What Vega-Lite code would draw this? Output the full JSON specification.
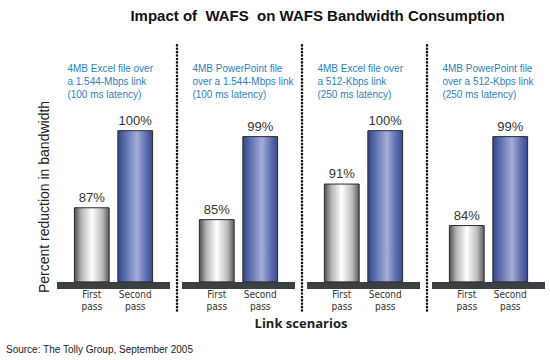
{
  "$schema": "https://vega.github.io/schema/vega-lite/v6.json",
  "background": "white",
  "padding": {"left": 6, "top": 9, "right": 2, "bottom": 2},
  "title": {"text": "Impact of \u00a0WAFS \u00a0on WAFS Bandwidth Consumption", "fontSize": 15, "fontWeight": "bold", "font": "Liberation Sans", "color": "#111111", "anchor": "middle", "dx": 42, "offset": 20},
  "vconcat": [
    {
      "data": {"values": [
        {"scenario": "4MB Excel file over|a 1.544-Mbps link|(100 ms latency)", "pass": "First pass", "value": 87},
        {"scenario": "4MB Excel file over|a 1.544-Mbps link|(100 ms latency)", "pass": "Second pass", "value": 100},
        {"scenario": "4MB PowerPoint file|over a 1.544-Mbps link|(100 ms latency)", "pass": "First pass", "value": 85},
        {"scenario": "4MB PowerPoint file|over a 1.544-Mbps link|(100 ms latency)", "pass": "Second pass", "value": 99},
        {"scenario": "4MB Excel file over|a 512-Kbps link|(250 ms latency)", "pass": "First pass", "value": 91},
        {"scenario": "4MB Excel file over|a 512-Kbps link|(250 ms latency)", "pass": "Second pass", "value": 100},
        {"scenario": "4MB PowerPoint file|over a 512-Kbps link|(250 ms latency)", "pass": "First pass", "value": 84},
        {"scenario": "4MB PowerPoint file|over a 512-Kbps link|(250 ms latency)", "pass": "Second pass", "value": 99}
      ]},
      "title": {"text": "Source: The Tolly Group, September 2005", "orient": "bottom", "anchor": "start", "fontSize": 10, "fontWeight": "normal", "font": "Liberation Sans", "color": "#222222", "dx": -31, "offset": 14},
      "spacing": 12,
      "bounds": "flush",
      "facet": {
        "column": {
          "field": "scenario", "type": "nominal",
          "sort": [
            "4MB Excel file over|a 1.544-Mbps link|(100 ms latency)",
            "4MB PowerPoint file|over a 1.544-Mbps link|(100 ms latency)",
            "4MB Excel file over|a 512-Kbps link|(250 ms latency)",
            "4MB PowerPoint file|over a 512-Kbps link|(250 ms latency)"
          ],
          "title": "Link scenarios",
          "header": {"labels": false, "titleOrient": "bottom", "titleFontSize": 13, "titleFontWeight": "bold", "titleFont": "Open Sans", "titleColor": "#222222", "titlePadding": -3}
        }
      },
      "spec": {
        "width": 113,
        "height": 185,
        "encoding": {
          "x": {"field": "pass", "type": "nominal", "scale": {"paddingInner": 0.2, "paddingOuter": 0.4},
                "axis": {"title": null, "labelExpr": "split(datum.value, ' ')", "labelAngle": 0, "ticks": false, "domain": false, "labelFontSize": 10, "labelColor": "#333333", "labelLineHeight": 12, "labelPadding": 0, "labelFont": "DejaVu Sans Condensed"}}
        },
        "layer": [
          {
            "transform": [{"filter": "datum.pass == 'First pass'"}],
            "mark": {"type": "rect", "color": "#3b4143"},
            "encoding": {"x": null, "y": {"datum": 74.5, "type": "quantitative", "scale": {"domain": [73.3, 104.5], "nice": false, "zero": false}}, "y2": {"datum": 73.3}}
          },
          {
            "mark": {"type": "bar", "stroke": "#2a2a2a", "strokeWidth": 1},
            "encoding": {
              "y": {"field": "value", "type": "quantitative", "scale": {"domain": [73.3, 104.5], "nice": false, "zero": false},
                    "axis": {"title": "Percent reduction in bandwidth", "labels": false, "ticks": false, "domain": false, "grid": false, "titleFontSize": 14, "titleFontWeight": "normal", "titleColor": "#222222", "titlePadding": 6, "titleFont": "Liberation Sans"}},
              "y2": {"datum": 74.5},
              "fill": {
                "condition": {"test": "datum.pass == 'First pass'", "value": {"gradient": "linear", "x1": 0, "x2": 1, "y1": 0, "y2": 0, "stops": [{"offset": 0, "color": "#505050"}, {"offset": 0.2, "color": "#b4b4b4"}, {"offset": 0.5, "color": "#ffffff"}, {"offset": 0.8, "color": "#bcbcbc"}, {"offset": 1, "color": "#5a5a5a"}]}},
                "value": {"gradient": "linear", "x1": 0, "x2": 1, "y1": 0, "y2": 0, "stops": [{"offset": 0, "color": "#304685"}, {"offset": 0.25, "color": "#6475b4"}, {"offset": 0.55, "color": "#a6acd6"}, {"offset": 0.8, "color": "#6070b0"}, {"offset": 1, "color": "#354b8b"}]}
              }
            }
          },
          {
            "mark": {"type": "text", "baseline": "bottom", "dy": -3, "fontSize": 13, "color": "#333333", "font": "Liberation Sans", "text": {"expr": "datum.value + '%'"}},
            "encoding": {"y": {"field": "value", "type": "quantitative"}}
          },
          {
            "transform": [{"filter": "datum.pass == 'First pass'"}],
            "mark": {"type": "text", "align": "left", "baseline": "top", "lineBreak": "|", "lineHeight": 13, "fontSize": 10, "color": "#2e7fc1", "font": "Liberation Sans", "dx": -7},
            "encoding": {"x": {"datum": "First pass", "bandPosition": 0}, "y": {"datum": 111.2}, "text": {"field": "scenario"}}
          },
          {
            "transform": [{"filter": "datum.pass == 'First pass' && indexof(datum.scenario, 'over a 512') < 0"}],
            "mark": {"type": "rule", "color": "#111111", "strokeWidth": 2.5, "strokeCap": "round", "strokeDash": [0.1, 3.3], "xOffset": 7},
            "encoding": {"x": {"value": "width"}, "y": {"datum": 114.4}, "y2": {"datum": 69.3}}
          }
        ]
      }
    }
  ],
  "config": {"view": {"stroke": null}}
}
